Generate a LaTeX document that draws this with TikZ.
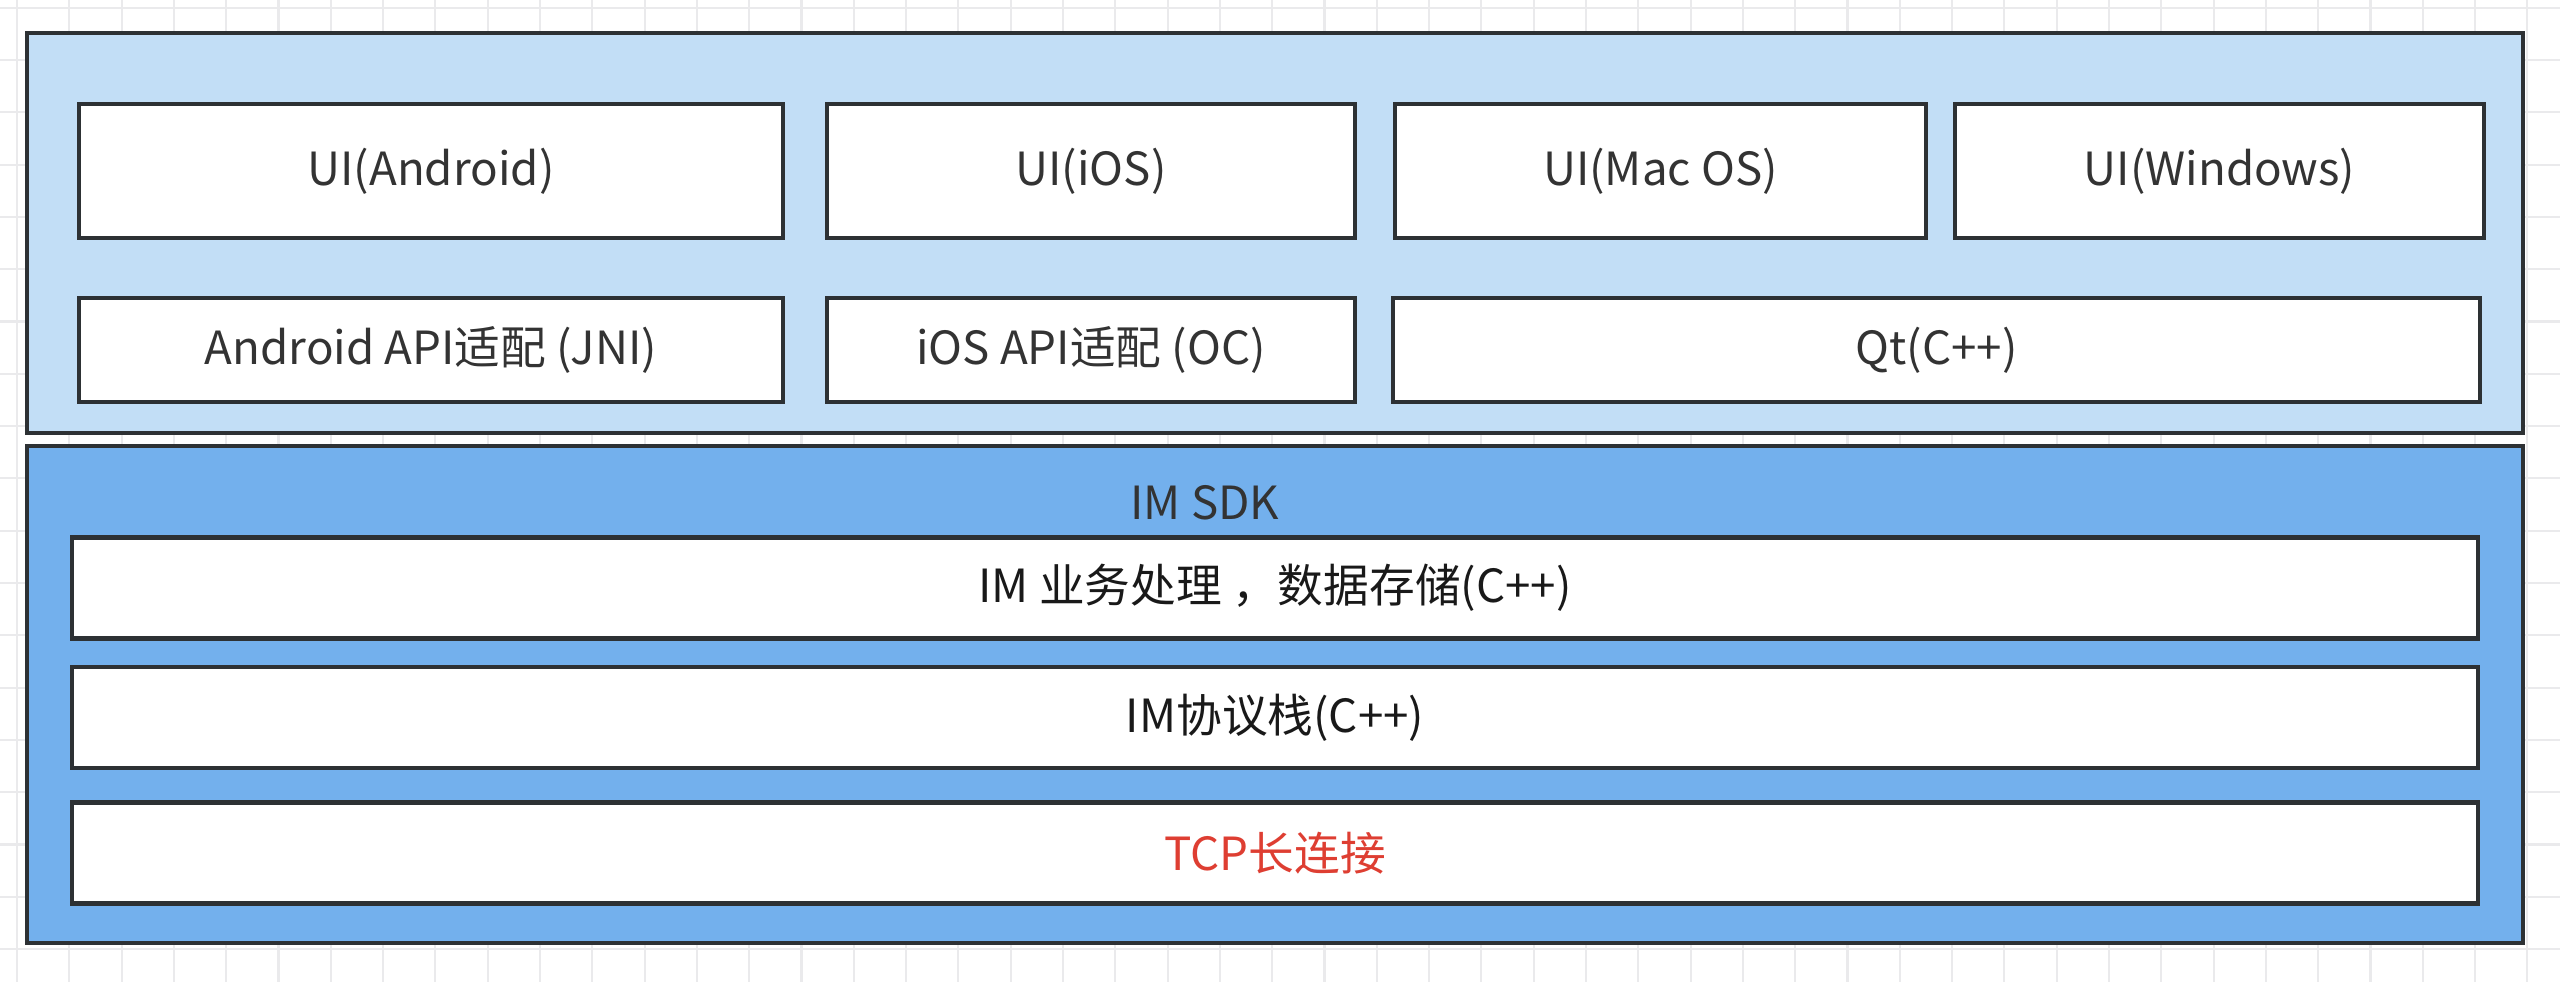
\documentclass[tikz,border=0pt]{standalone}
\usepackage{fontspec}
\setmainfont{Noto Sans CJK SC}
\usepackage{tikz}

\definecolor{panelLight}{RGB}{194,222,246}
\definecolor{panelDark}{RGB}{115,176,237}
\definecolor{edge}{RGB}{45,49,52}
\definecolor{tcpRed}{RGB}{222,62,50}
\definecolor{gridLine}{RGB}{234,234,236}

\begin{document}
\begin{tikzpicture}[
  panel/.style={rectangle,draw=edge,line width=1.3pt,inner sep=0pt},
  box/.style={rectangle,draw=edge,line width=1.3pt,fill=white,inner sep=0pt,
    minimum height=1.04cm,font=\fontsize{13}{15}\selectfont},
  uibox/.style={box,minimum height=1.34cm,text=black!80},
  apibox/.style={box,text=black!80},
  sdkbox/.style={box,minimum width=24.06cm,minimum height=1.01cm,text=black!90}
]

\useasboundingbox (0,0) rectangle (25.6,-9.81);
\fill[white] (0,0) rectangle (25.6,-9.81);

% background grid
\begin{scope}
\clip (0,0) rectangle (25.6,-9.81);
\draw[color=gridLine,line width=0.6pt,shift={(0.17,-0.077)}] (-1,-10.46) grid[step=0.523] (26,1);
\end{scope}

% the two layers
\node[panel,fill=panelLight,minimum width=24.96cm,minimum height=4cm] (app) at (12.75,-2.33) {};
\node[panel,fill=panelDark,minimum width=24.96cm,minimum height=4.97cm] (sdk) at (12.75,-6.945) {};

% UI row
\node[uibox,minimum width=7.04cm] (uiandroid) at (4.31,-1.71) {UI(Android)};
\node[uibox,minimum width=5.28cm] (uiios) at (10.91,-1.71) {UI(iOS)};
\node[uibox,minimum width=5.31cm] (uimac) at (16.605,-1.71) {UI(Mac OS)};
\node[uibox,minimum width=5.29cm] (uiwin) at (22.195,-1.71) {UI(Windows)};

% API row
\node[apibox,minimum width=7.04cm] (apiandroid) at (4.31,-3.50) {Android API适配 (JNI)};
\node[apibox,minimum width=5.28cm] (apiios) at (10.91,-3.50) {iOS API适配 (OC)};
\node[apibox,minimum width=10.87cm] (qt) at (19.365,-3.50) {Qt(C++)};

% SDK
\node[text=black!80,font=\fontsize{13}{15}\selectfont] (sdklabel) at (12.05,-5.03) {IM SDK};
\node[sdkbox] (logic) at (12.75,-5.88) {IM 业务处理 ，数据存储(C++)};
\node[sdkbox] (proto) at (12.75,-7.175) {IM协议栈(C++)};
\node[sdkbox,text=tcpRed] (tcp) at (12.75,-8.53) {TCP长连接};

\end{tikzpicture}
\end{document}
